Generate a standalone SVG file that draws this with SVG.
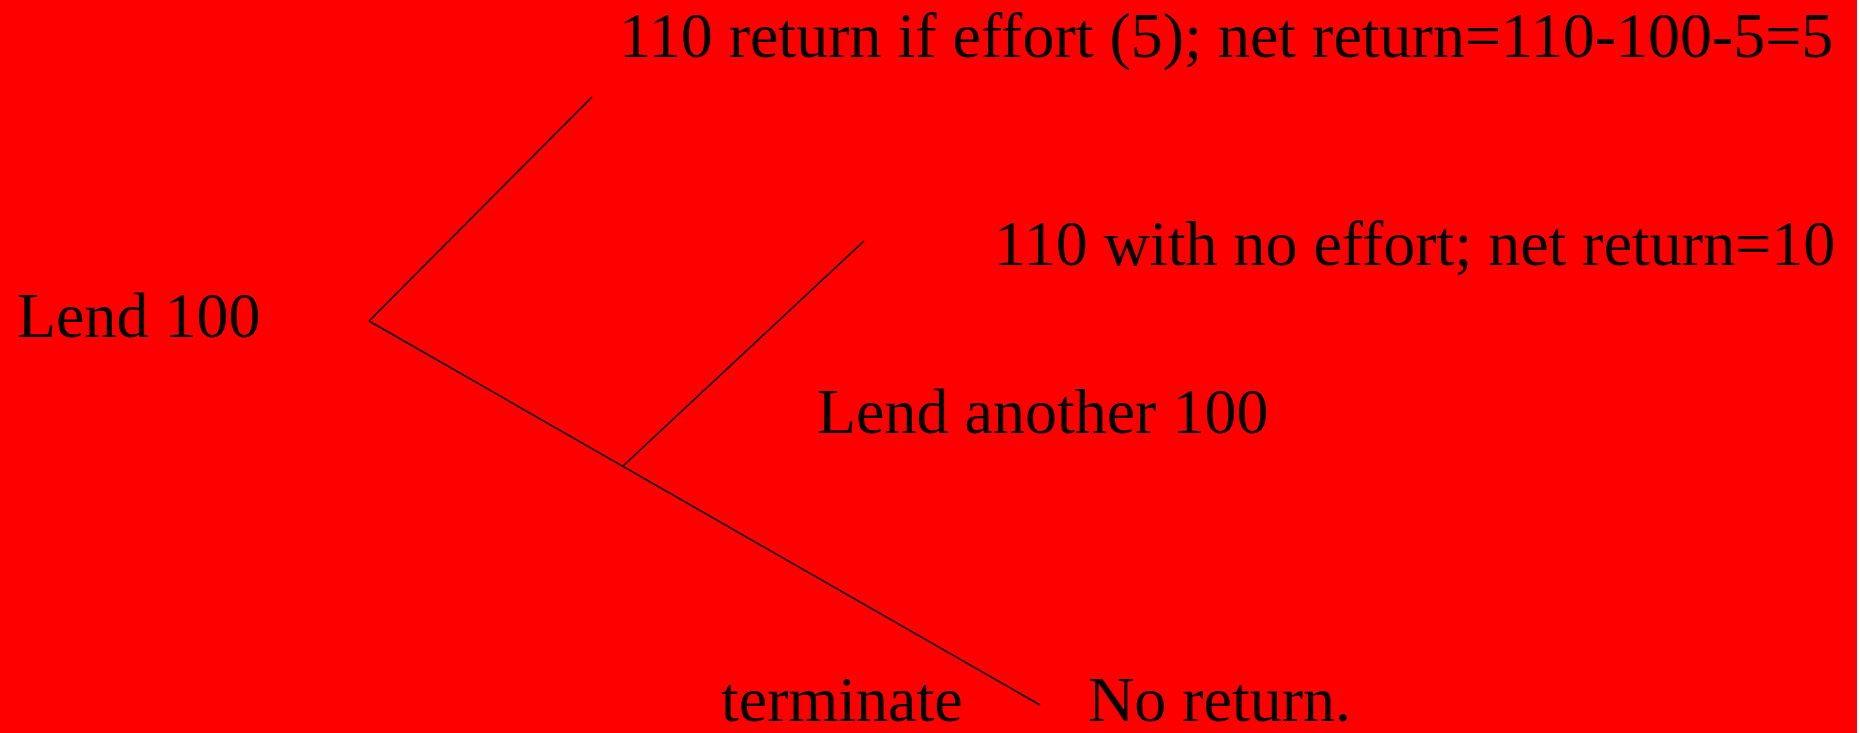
<svg xmlns="http://www.w3.org/2000/svg" width="1860" height="733" viewBox="0 0 1860 733">
<style>
text{font-family:"Liberation Serif","Times New Roman",serif;font-size:64px;fill:#000}
.edge{stroke:#000;stroke-width:1.6;fill:none}
</style>
<rect x="0" y="0" width="1860" height="733" fill="#fff"/>
<rect x="0" y="0" width="1857" height="733" fill="#ff0000"/>
<g id="connectors">
<line class="edge" x1="369" y1="321" x2="592" y2="97"/>
<line class="edge" x1="369" y1="321" x2="1040" y2="705"/>
<line class="edge" x1="623" y1="466" x2="864" y2="241"/>
</g>
<g id="node-lend100"><text x="17" y="337">Lend 100</text></g>
<g id="node-effort"><text x="619" y="57">110 return if effort (5); net return=110-100-5=5</text></g>
<g id="node-noeffort"><text x="994" y="265">110 with no effort; net return=10</text></g>
<g id="node-lendanother"><text x="817" y="433">Lend another 100</text></g>
<g id="node-terminate"><text x="721" y="721">terminate</text></g>
<g id="node-noreturn"><text x="1088" y="721">No return.</text></g>
</svg>
